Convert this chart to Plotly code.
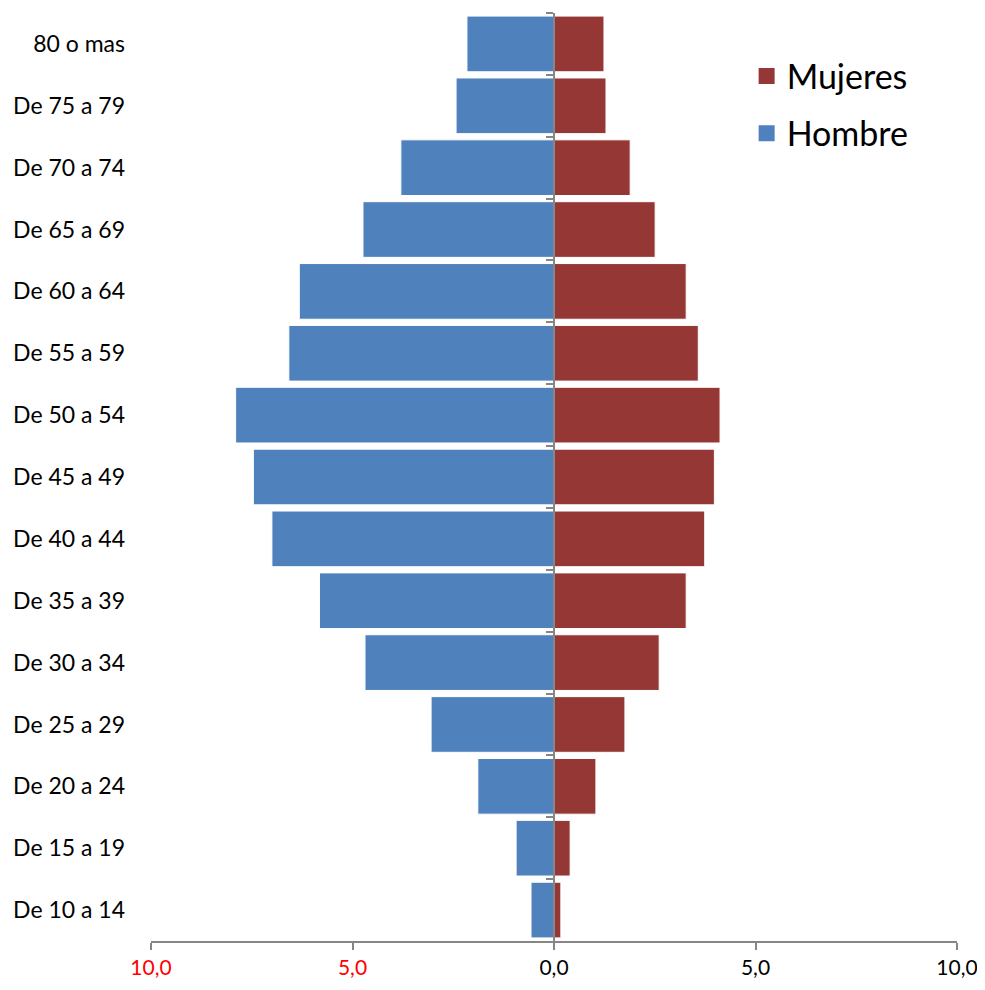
import plotly.graph_objects as go

categorias = ["80 o mas", "De 75 a 79", "De 70 a 74", "De 65 a 69", "De 60 a 64",
              "De 55 a 59", "De 50 a 54", "De 45 a 49", "De 40 a 44", "De 35 a 39",
              "De 30 a 34", "De 25 a 29", "De 20 a 24", "De 15 a 19", "De 10 a 14"]
hombre = [2.16, 2.43, 3.80, 4.74, 6.32, 6.58, 7.90, 7.46, 7.00, 5.82,
          4.69, 3.05, 1.89, 0.94, 0.57]
mujeres = [1.24, 1.29, 1.89, 2.51, 3.28, 3.58, 4.12, 3.98, 3.74, 3.28,
           2.61, 1.76, 1.04, 0.40, 0.17]
tick_vals = [-10, -5, 0, 5, 10]
tick_text = ["<span style='color:#FF0000'>10,0</span>",
             "<span style='color:#FF0000'>5,0</span>",
             "0,0", "5,0", "10,0"]

BLUE = "#4F81BD"
RED = "#953735"
GRAY = "#868686"
FONT = "Lato"

fig = go.Figure()
fig.add_trace(go.Bar(y=categorias, x=[-v for v in hombre], orientation="h",
                     marker=dict(color=BLUE, line=dict(color="white", width=1)),
                     name="Hombre", showlegend=False))
fig.add_trace(go.Bar(y=categorias, x=mujeres, orientation="h",
                     marker=dict(color=RED, line=dict(color="white", width=1)),
                     name="Mujeres", showlegend=False))
# legend entries
fig.add_trace(go.Scatter(x=[None], y=[None], mode="markers", name="Mujeres",
                         legendgroup="m", marker=dict(symbol="square", size=22, color=RED)))
fig.add_trace(go.Scatter(x=[None], y=[None], mode="markers", name="Hombre",
                         legendgroup="h", marker=dict(symbol="square", size=22, color=BLUE)))
# invisible trace for the central category axis
fig.add_trace(go.Scatter(x=[0] * len(categorias), y=categorias, yaxis="y2",
                         mode="markers", marker=dict(opacity=0),
                         showlegend=False, hoverinfo="skip"))

n = len(categorias)
fig.update_layout(
    width=977, height=982,
    margin=dict(l=143, r=28, t=5, b=49),
    plot_bgcolor="white", paper_bgcolor="white",
    barmode="relative", bargap=0.1,
    font=dict(family=FONT, size=23, color="black"),
    xaxis=dict(range=[-10, 10], tickvals=tick_vals, ticktext=tick_text,
               showgrid=False, zeroline=False, showline=True, linecolor=GRAY,
               linewidth=2, ticks="outside", ticklen=7, tickwidth=2,
               tickcolor=GRAY, tickfont=dict(size=21)),
    yaxis=dict(type="category", categoryarray=categorias, range=[n - 0.5, -0.5],
               showgrid=False, zeroline=False, showline=False, ticks="",
               ticklabelstandoff=25, tickfont=dict(size=23)),
    yaxis2=dict(type="category", categoryarray=categorias, range=[n - 0.5, -0.5],
                overlaying="y", anchor="free", position=0.5, side="left",
                showgrid=False, zeroline=False, showline=True, linecolor=GRAY,
                linewidth=2, ticks="outside", tickson="boundaries", ticklen=7,
                tickwidth=2, tickcolor=GRAY, showticklabels=False),
    legend=dict(x=0.739, y=0.963, xanchor="left", yanchor="top",
                font=dict(size=34), itemsizing="trace", traceorder="grouped",
                tracegroupgap=10, bgcolor="rgba(0,0,0,0)"),
)

fig.write_html("out.html")
